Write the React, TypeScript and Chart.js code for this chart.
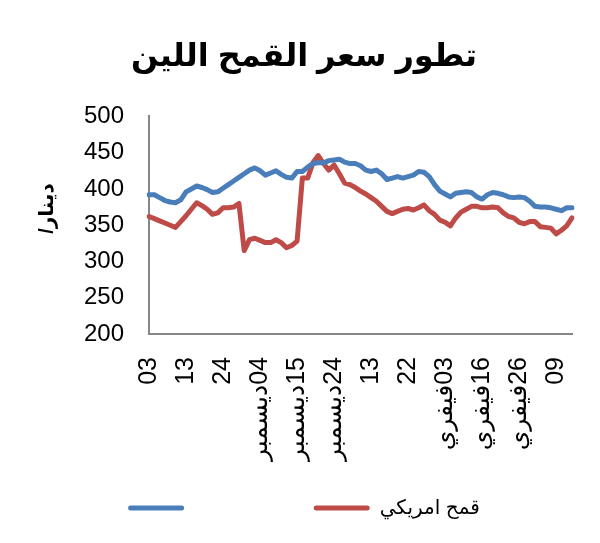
import React, { useEffect, useRef } from "react";
import { Chart, registerables } from "chart.js";

Chart.register(...registerables);

const titleText = "تطور سعر القمح اللين";
const yTitle = "      /دينار";
const seriesNames = ["", "قمح امريكي"];
const tickLabels = [
  "03", "13", "24",
  "ديسمبر\u200E04", "ديسمبر\u200E15", "ديسمبر\u200E24",
  "13", "22",
  "فيفري\u200E03", "فيفري\u200E16", "فيفري\u200E26",
  "09",
];
const labelEvery = 7;

const blueValues = [
  392, 392, 388, 384, 382, 381, 385, 396, 400, 404,
  402, 399, 395, 396, 401, 406, 411, 416, 421, 426,
  429, 425, 419, 422, 425, 420, 416, 415, 424, 424,
  430, 435, 436, 436, 439, 440, 441, 437, 435, 435,
  432, 426, 424, 426, 421, 413, 415, 417, 415, 417,
  419, 424, 423, 417, 406, 397, 393, 389, 394, 395,
  396, 395, 389, 386, 392, 395, 394, 392, 389, 388,
  389, 388, 383, 376, 375, 375, 374, 372, 370, 374,
  374,
];
const redValues = [
  362, 359, 356, 353, 350, 347, 355, 363, 372, 381,
  377, 372, 365, 367, 374, 374, 375, 380, 315, 330,
  332, 329, 326, 326, 330, 326, 319, 322, 328, 415,
  415, 436, 446, 435, 426, 433, 421, 408, 406, 402,
  397, 393, 388, 383, 376, 369, 366, 369, 372, 373,
  371, 374, 378, 370, 365, 357, 354, 349, 360, 368,
  372, 376, 376, 374, 374, 375, 374, 367, 362, 360,
  354, 352, 355, 355, 348, 347, 346, 338, 343, 349,
  360,
];

const categories = blueValues.map((_, i) =>
  i % labelEvery === 0 && tickLabels[i / labelEvery] !== undefined ? tickLabels[i / labelEvery] : ""
);

const FONT = "'Liberation Sans', Arial, 'DejaVu Sans', sans-serif";
const AXIS_GRAY = "#868686";

export default function App() {
  const ref = useRef<HTMLCanvasElement | null>(null);
  useEffect(() => {
    document.body.style.margin = "0";
    const ctx = ref.current!;
    const chart = new Chart(ctx, {
      type: "line",
      data: {
        labels: categories,
        datasets: [
          {
            label: seriesNames[0],
            data: blueValues,
            borderColor: "#4A7EBB",
            backgroundColor: "#4A7EBB",
            borderWidth: 5,
            pointRadius: 0,
            tension: 0,
            borderCapStyle: "round",
            borderJoinStyle: "round",
          },
          {
            label: seriesNames[1],
            data: redValues,
            borderColor: "#BE4B48",
            backgroundColor: "#BE4B48",
            borderWidth: 5,
            pointRadius: 0,
            tension: 0,
            borderCapStyle: "round",
            borderJoinStyle: "round",
          },
        ],
      },
      options: {
        animation: false,
        responsive: true,
        maintainAspectRatio: false,
        layout: { padding: { left: 35, right: 27, top: 0, bottom: 15 } },
        plugins: {
          tooltip: { enabled: false },
          title: {
            display: true,
            text: titleText,
            color: "#000",
            font: { family: FONT, size: 32, weight: "bold" },
            padding: { top: 38, bottom: 40 },
          },
          legend: {
            position: "bottom",
            labels: {
              color: "#000",
              font: { family: FONT, size: 20 },
              boxWidth: 56,
              boxHeight: 5,
              padding: 14,
              useBorderRadius: true,
              borderRadius: 2.5,
              generateLabels: (c: any) =>
                c.data.datasets.map((ds: any, i: number) => ({
                  text: ds.label === "" ? " ".repeat(19) : ds.label,
                  fillStyle: ds.borderColor,
                  strokeStyle: ds.borderColor,
                  lineWidth: 0,
                  hidden: false,
                  datasetIndex: i,
                  borderRadius: 2.5,
                })),
            },
          },
        },
        scales: {
          x: {
            grid: { display: false, drawTicks: false },
            border: { display: true, color: AXIS_GRAY, width: 2 },
            ticks: {
              autoSkip: false,
              maxRotation: 90,
              minRotation: 90,
              padding: 23,
              color: "#000",
              font: { family: FONT, size: 25, lineHeight: 0.2 },
            },
          },
          y: {
            min: 200,
            max: 500,
            grid: { display: false, drawTicks: false },
            border: { display: true, color: AXIS_GRAY, width: 2 },
            ticks: {
              stepSize: 50,
              padding: 25,
              color: "#000",
              font: { family: FONT, size: 24 },
            },
            title: {
              display: true,
              text: yTitle,
              color: "#000",
              font: { family: FONT, size: 20, weight: "bold" },
              padding: { top: 0, bottom: 0 },
            },
          },
        },
      },
    });
    return () => chart.destroy();
  }, []);
  return (
    <div style={{ width: 600, height: 543, position: "relative" }}>
      <canvas ref={ref} />
    </div>
  );
}
